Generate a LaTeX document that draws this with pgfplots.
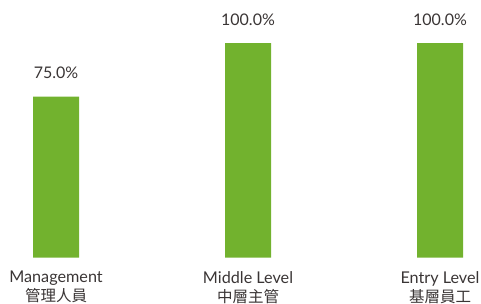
\documentclass[border=0pt]{standalone}
\usepackage{fontspec}
\setmainfont{Lato}
\newfontfamily\cjk{Noto Sans CJK TC}
\usepackage{pgfplots}
\pgfplotsset{compat=1.18}
\definecolor{barg}{HTML}{72B22E}
\definecolor{txt}{HTML}{3A3535}
\begin{document}
\begin{tikzpicture}
\useasboundingbox (0,0) rectangle (481pt,303pt);
\begin{axis}[
  at={(0pt,45.5pt)}, anchor=south west,
  scale only axis, width=481pt, height=214.5pt,
  xmin=-0.2917, xmax=2.2135, ymin=0, ymax=100,
  axis line style={draw=none},
  major tick length=0pt,
  ytick=\empty,
  xtick=data,
  xticklabels={{Management\\{\cjk\fontsize{15.5}{19}\selectfont 管理人員}},{Middle Level\\{\cjk\fontsize{15.5}{19}\selectfont 中層主管}},{Entry Level\\{\cjk\fontsize{15.5}{19}\selectfont 基層員工}}},
  xticklabel style={font=\fontsize{16.2}{19}\selectfont, text=txt, align=center, inner sep=0pt, anchor=north, yshift=-13.5pt},
  ybar, bar width=46pt,
  clip=false,
  /pgf/number format/assume math mode=true,
  nodes near coords={\pgfmathprintnumber[fixed,fixed zerofill,precision=1,assume math mode=true]{\pgfplotspointmeta}\%},
  every node near coord/.append style={font=\fontsize{16}{18}\selectfont, text=txt, inner sep=0pt, anchor=base, yshift=18pt},
]
\addplot[fill=barg, draw=none] coordinates {(0,75) (1,100) (2,100)};
\end{axis}
\end{tikzpicture}
\end{document}
